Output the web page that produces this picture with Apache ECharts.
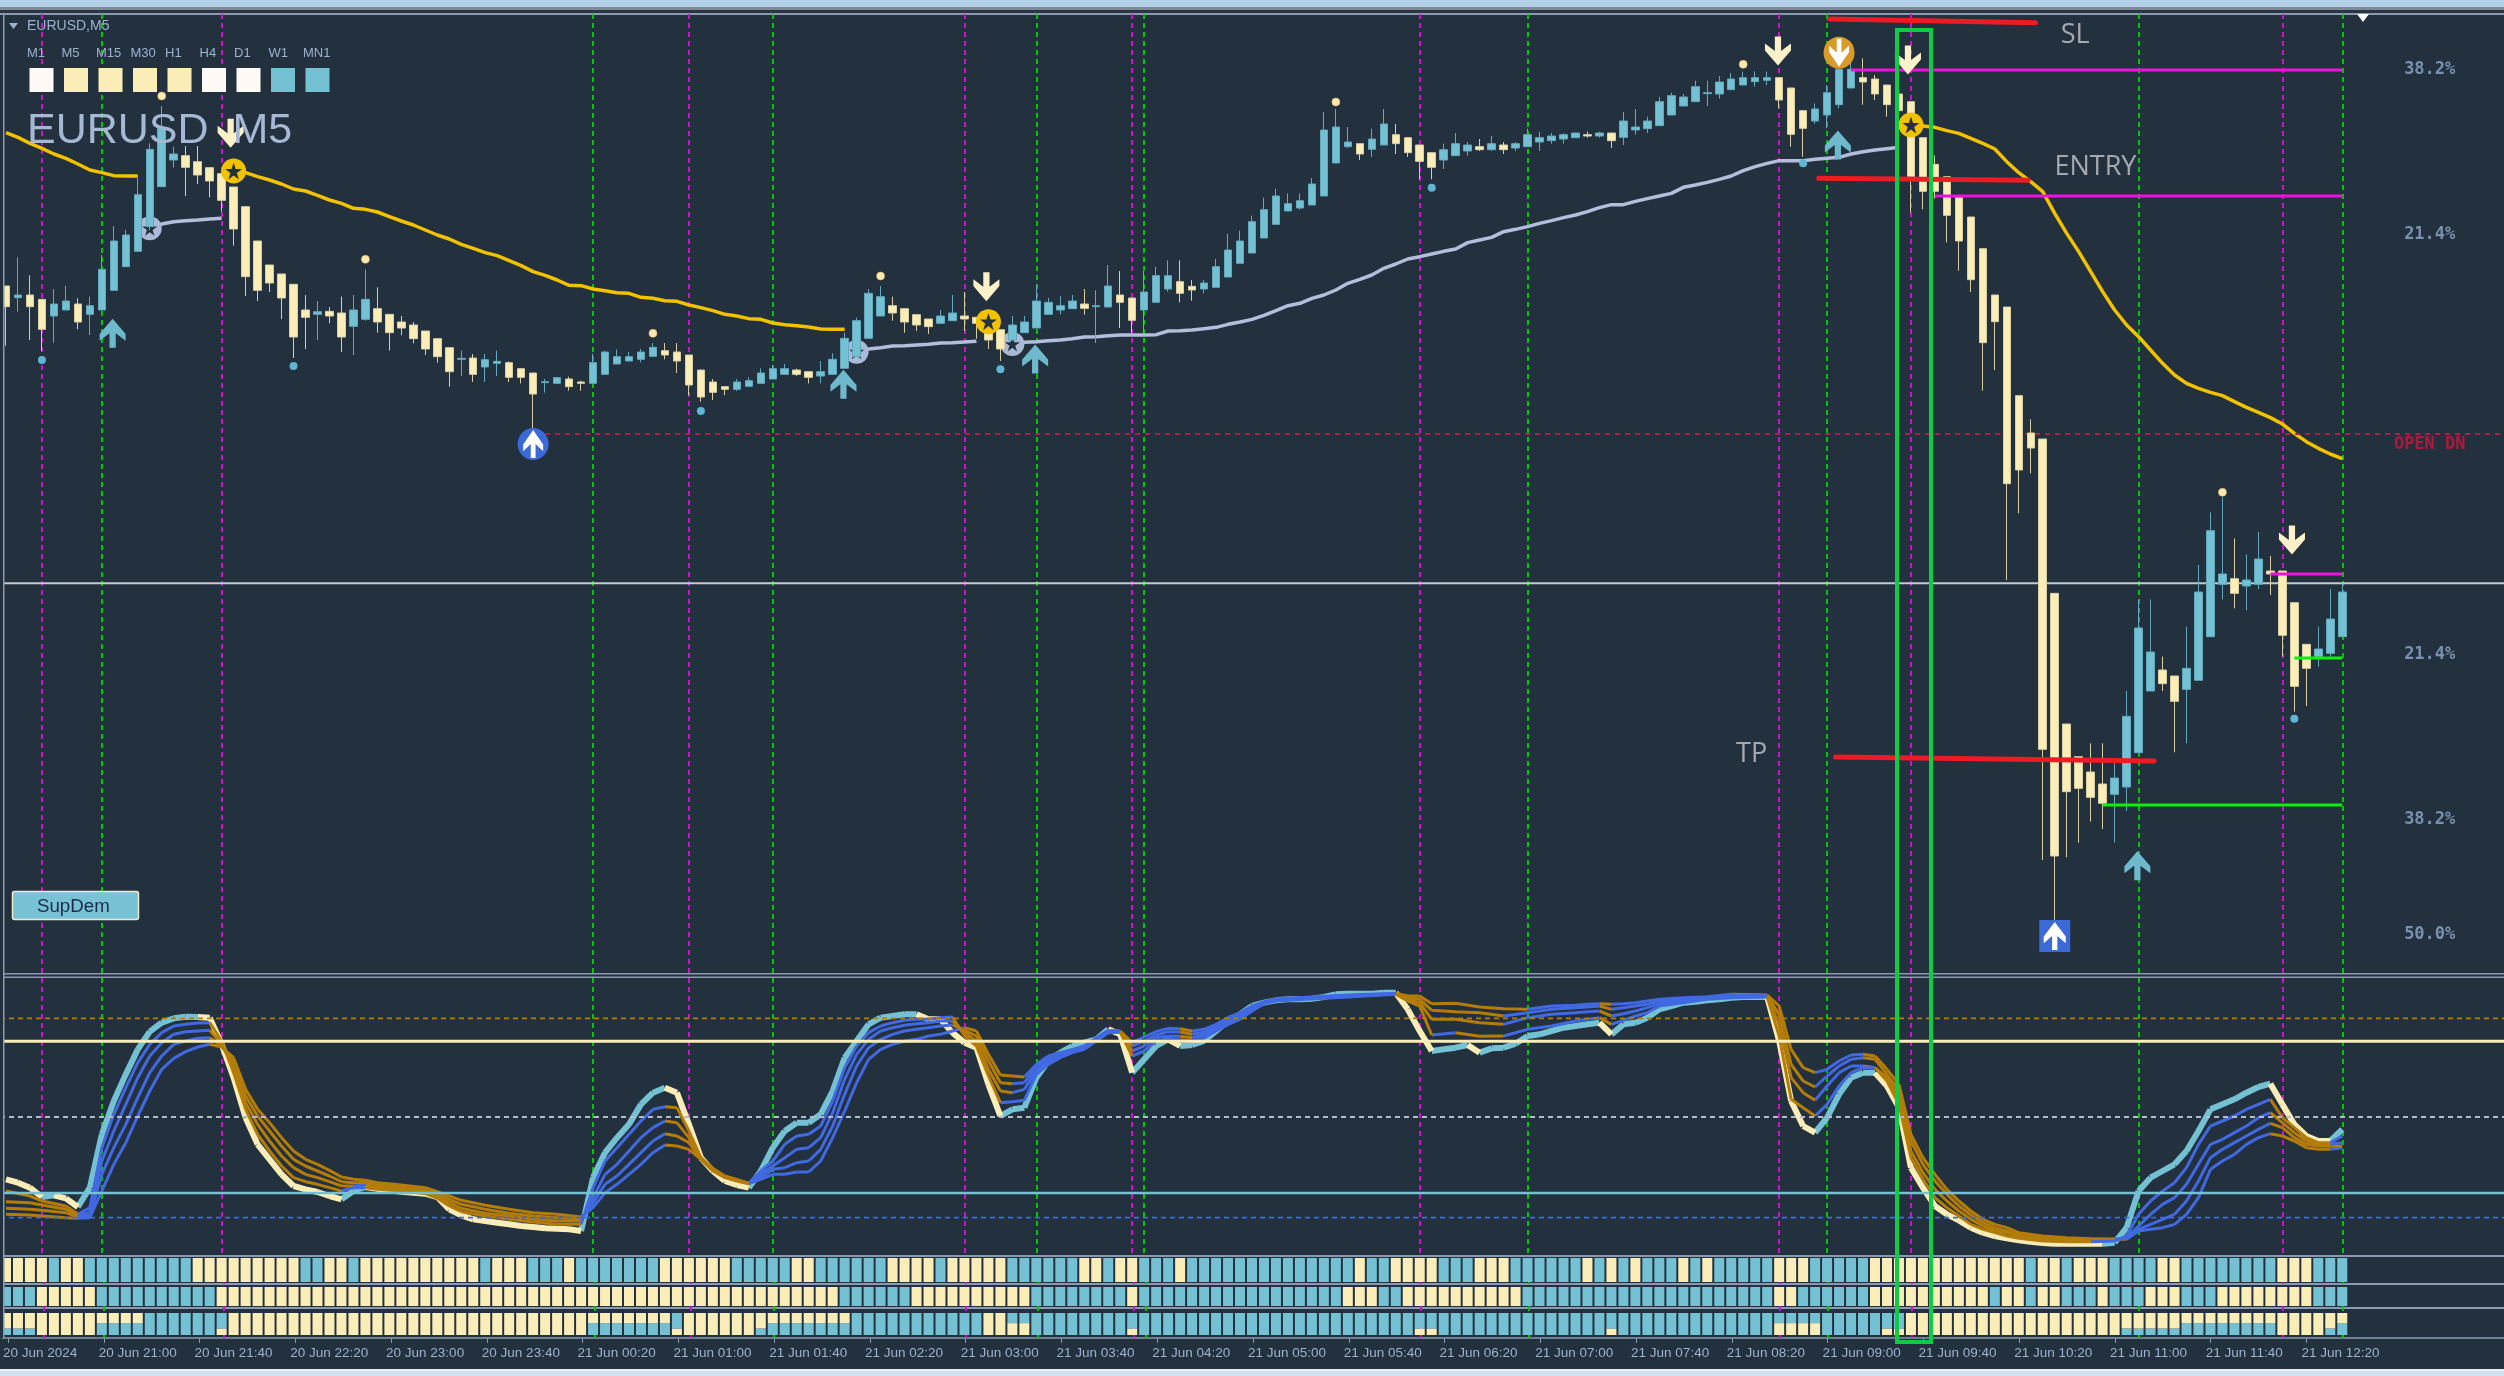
<!DOCTYPE html>
<html><head><meta charset="utf-8">
<style>html,body{margin:0;padding:0;background:#23303e}#c{width:2504px;height:1376px}</style>
<script src="https://cdn.jsdelivr.net/npm/echarts@6/dist/echarts.min.js"></script>
</head><body><div id="c"></div>
<script>
// ---------- data (quotes in points, 3 points = 1 px on screen) ----------
const opens=[2142,2107,2115,2102,2052,2070,2088,2057,2070,2129,2200,2246,2320,2440,2520,2533,2515,2497,2479,2439,2380,2277,2205,2178,2147,2070,2057,2066,2061,2021,2042,2074,2057,2034,2025,2007,1984,1957,1922,1926,1899,1910,1912,1894,1881,1852,1850,1863,1854,1850,1877,1908,1917,1922,1931,1948,1944,1935,1890,1854,1840,1832,1841,1850,1863,1877,1890,1885,1872,1877,1895,1930,1985,2052,2083,2074,2056,2043,2030,2038,2052,2048,2043,2011,1980,2002,2016,2057,2070,2074,2088,2080,2079,2115,2106,2070,2093,2133,2155,2141,2133,2138,2169,2210,2241,2286,2327,2367,2376,2385,2412,2511,2560,2569,2552,2565,2596,2587,2565,2542,2520,2533,2547,2560,2551,2565,2556,2560,2574,2578,2583,2587,2596,2592,2601,2588,2610,2614,2623,2655,2682,2695,2719,2718,2731,2745,2755,2759,2767,2736,2668,2637,2655,2686,2736,2767,2763,2745,2718,2695,2587,2507,2470,2408,2349,2254,2115,2079,1813,1701,1683,1220,828,730,684,648,617,639,742,927,990,972,932,959,1090,1247,1264,1242,1247,1287,1287,1192,1067,1030,1040,1090];
const closes=[2080,2115,2080,2012,2088,2097,2034,2083,2192,2277,2295,2416,2552,2615,2538,2498,2475,2457,2399,2313,2170,2129,2151,2106,1989,2048,2065,2052,1989,2070,2102,2034,2002,2016,1984,1953,1930,1885,1925,1877,1921,1916,1868,1868,1818,1855,1867,1840,1850,1912,1944,1930,1930,1944,1958,1935,1917,1845,1809,1823,1832,1854,1858,1881,1894,1894,1877,1868,1885,1922,1985,2038,2120,2110,2061,2034,2025,2020,2052,2061,2043,2030,1980,1953,2025,2034,2097,2093,2083,2097,2075,2083,2142,2093,2039,2124,2173,2173,2120,2130,2151,2200,2250,2277,2335,2371,2412,2389,2398,2448,2610,2619,2574,2538,2583,2628,2569,2542,2516,2498,2551,2569,2565,2551,2569,2551,2569,2596,2587,2592,2596,2601,2592,2601,2578,2637,2619,2637,2695,2713,2709,2740,2722,2754,2763,2767,2767,2767,2700,2597,2615,2673,2722,2792,2792,2754,2718,2686,2668,2470,2426,2426,2354,2277,2161,1972,2035,1549,1590,1656,752,432,625,635,608,590,666,851,1116,1044,949,896,995,1224,1408,1278,1220,1260,1323,1278,1094,941,995,1053,1143,1224];
const lows=[1963,2065,1980,1947,1972,2070,2012,1995,2070,2129,2200,2246,2310,2440,2497,2412,2448,2408,2365,2263,2112,2097,2124,2043,1926,1953,1980,2030,1944,1935,2038,2002,1948,1994,1970,1935,1912,1840,1872,1854,1854,1872,1854,1850,1705,1822,1850,1828,1828,1850,1877,1908,1917,1913,1931,1922,1881,1814,1795,1800,1814,1827,1841,1850,1863,1877,1872,1850,1850,1877,1895,1930,1985,2052,2038,2002,2007,1998,2030,2038,2007,1984,1953,1917,1980,2002,2016,2057,2057,2074,2056,1971,2079,2016,2002,1998,2093,2125,2093,2098,2120,2138,2169,2210,2241,2286,2327,2367,2371,2385,2412,2511,2556,2520,2529,2565,2538,2529,2462,2462,2493,2533,2533,2547,2547,2538,2547,2560,2547,2569,2569,2587,2587,2587,2556,2565,2596,2601,2623,2655,2682,2695,2682,2704,2731,2745,2740,2745,2675,2560,2530,2628,2615,2675,2736,2686,2700,2650,2630,2362,2372,2404,2273,2188,2124,1828,1890,1260,1460,1580,420,230,428,472,535,513,472,567,742,927,927,743,770,959,1090,1202,1175,1170,1233,1215,1030,865,882,1000,1030,1090];
const highs=[2142,2228,2174,2102,2133,2142,2105,2110,2235,2322,2310,2470,2570,2682,2560,2562,2562,2497,2485,2439,2380,2277,2205,2178,2147,2115,2097,2079,2110,2115,2192,2138,2057,2052,2034,2007,1984,1957,1948,1938,1938,1948,1916,1894,1881,1863,1867,1870,1858,1939,1948,1952,1944,1953,1971,1971,1971,1935,1890,1863,1840,1863,1868,1895,1903,1908,1894,1885,1917,1940,2002,2047,2133,2142,2110,2074,2056,2043,2070,2115,2124,2048,2043,2011,2052,2052,2145,2106,2111,2115,2133,2129,2205,2187,2106,2187,2200,2219,2219,2160,2160,2223,2299,2308,2353,2407,2434,2420,2420,2466,2664,2673,2619,2569,2614,2673,2628,2587,2565,2542,2569,2601,2574,2583,2592,2574,2574,2614,2605,2601,2601,2601,2605,2605,2601,2664,2673,2650,2709,2722,2718,2758,2758,2772,2781,2785,2786,2785,2767,2736,2668,2690,2745,2828,2825,2825,2775,2745,2718,2695,2587,2534,2470,2408,2349,2254,2115,2079,1813,1742,1683,1220,828,730,770,770,710,927,1200,1202,1030,972,1120,1305,1463,1508,1385,1337,1404,1332,1287,1192,1067,1120,1233,1250];

const goldA=[2602,2588,2570,2555,2538,2525,2508,2490,2482,2473,2472,2472];              // from bar 0
const goldB=[2487,2482,2470,2460,2448,2433,2427,2414,2400,2390,2375,2372,2364,2350,2337,2325,2310,2295,2283,2267,2255,2242,2233,2218,2203,2185,2174,2160,2144,2143,2133,2128,2122,2120,2108,2105,2098,2096,2085,2077,2068,2057,2052,2044,2042,2031,2026,2023,2019,2013,2012,2012]; // from bar 19
const goldC=[2625,2622,2618,2608,2600,2585,2570,2553,2515,2482,2455,2425,2360,2300,2245,2185,2125,2070,2025,1990,1950,1910,1875,1850,1835,1823,1813,1795,1778,1763,1747,1728,1700,1675,1655,1638,1624]; // from bar 159
const silverA=[2315,2328,2335,2338,2340,2343,2345];                                      // from bar 12
const silverB=[1945,1953,1957,1962,1963,1965,1967,1971,1972,1974,1976];                  // from bar 71
const silverC=[1968,1973,1975,1978,1980,1984,1989,1990,1993,1995,1995,1995,1996,2007,2008,2010,2014,2018,2027,2034,2042,2054,2068,2083,2090,2105,2115,2130,2150,2162,2175,2195,2208,2223,2230,2238,2246,2253,2272,2280,2288,2305,2312,2320,2330,2338,2347,2355,2365,2377,2386,2386,2396,2404,2412,2420,2438,2445,2453,2462,2472,2488,2500,2510,2518,2518,2518,2522,2525,2528,2538,2545,2550,2554,2558]; // from bar 84

const downArrows=[[18.75,2600],[81.83,2140],[147.9,2847],[158.75,2820],[190.8,1380]];
const upArrows=[[8.9,2000],[69.9,1847],[85.9,1923],[152.9,2565],[177.9,403]];
const blueCircleUp=[[44,1668]];
const blueSquareUp=[[171,192]];
const goldCircleDown=[[153,2842]];
const goldStars=[[19,2487],[82,2035],[159,2625]];
const silverStars=[[12,2315],[71,1945],[84,1968]];
const topDots=[[13,2712],[30,2222],[54,2000],[73,2172],[111,2694],[145,2807],[185,1523]];
const bottomDots=[[3,1920],[24,1902],[58,1767],[83,1892],[119,2437],[150,2510],[191,844]];

const magentaBars=[3,18,57,80,94,118,148,159,190];
const greenBars=[8,49,64,86,95,127,152,178,195];
const whiteLevel=1250, openDnLevel=1698, openDnStart=45;
const magentaLevels=[[154,195,2790],[161,195,2412],[189,195,1278]];
const greenLevels=[[191,195,1026],[175,195,585]];
const redMarks=[[152.2,2943,169.4,2932],[151.3,2465,168.8,2459],[152.7,729,179.3,717]];
const fibLabels=[['38.2%',2792],['21.4%',2297],['21.4%',1037],['38.2%',542],['50.0%',197]];
const openDnLabel=[['OPEN DN',1665]];
const noteLabels=[['SL',172.7,2895],['ENTRY',174.4,2497],['TP',145.7,738]];

// oscillator, read as depth below its ceiling (axis runs downward)
const oscFast=[655,665,680,708,703,712,738,680,520,420,340,265,212,185,172,167,168,170,250,350,470,550,595,640,675,685,693,705,715,690,678,683,688,692,695,698,708,745,763,775,780,785,790,795,798,802,803,805,810,650,575,530,490,430,395,380,395,490,590,630,660,672,680,630,560,510,485,485,460,390,290,240,190,170,165,160,160,175,175,215,245,260,370,465,445,440,350,300,275,255,245,235,205,220,335,295,255,235,255,252,240,210,180,160,135,125,118,115,115,113,108,100,98,98,98,95,95,145,210,270,265,260,252,275,262,260,248,225,220,210,200,195,190,185,220,190,185,170,145,135,125,122,118,115,110,108,107,108,240,420,495,515,470,400,350,335,335,375,440,620,680,735,760,778,800,815,825,832,838,842,846,848,848,848,848,848,845,800,690,650,630,610,570,510,445,430,415,395,378,368,430,490,525,540,540,505];
const oscBars=[0,2,3,5,6,7,8,9,10,11,12,13,14,15,16,17,18,19,20,21,22,23,24,25,26,27,28,29,30,31,33,35,36,37,38,40,42,44,46,48,49,50,51,52,53,54,55,56,57,58,59,60,61,62,63,64,65,66,67,68,69,70,71,72,73,74,75,76,77,78,79,80,81,82,83,84,85,86,87,88,89,90,91,92,93,94,95,96,97,98,99,100,101,102,103,104,105,106,110,112,116,117,118,119,121,123,125,127,129,131,132,133,134,135,136,137,138,140,142,144,147,148,149,150,151,152,153,154,155,156,157,158,159,160,161,162,163,164,165,166,167,168,170,172,174,176,177,178,179,180,181,182,183,184,185,186,187,188,189,190,191,192,193,194,195];
const oscS1=[690,705,720,735,760,740,560,460,380,305,250,215,195,190,186,185,240,335,445,520,570,615,650,662,670,680,690,680,680,685,690,698,712,735,752,765,775,783,790,790,680,600,560,520,480,445,437,440,510,590,622,645,655,667,630,600,550,525,520,495,420,320,255,215,195,185,178,175,175,170,168,225,255,345,425,422,418,340,310,290,275,265,240,215,214,285,270,240,235,236,240,232,210,190,175,150,128,120,112,108,100,120,135,222,215,226,225,205,195,180,175,170,190,178,165,155,135,125,115,110,108,225,415,440,465,430,375,335,320,320,360,430,590,655,710,740,765,790,805,815,825,832,840,842,842,840,825,760,720,690,665,620,550,495,480,465,445,430,415,470,500,530,545,545,525];
const oscS2=[722,725,732,745,762,755,600,510,430,350,285,245,220,212,210,208,250,320,425,490,540,585,620,640,650,662,675,675,672,678,685,692,705,725,742,757,765,775,780,780,710,640,610,570,530,500,480,485,530,590,625,647,657,667,640,615,590,565,560,530,455,355,280,235,210,200,193,188,185,180,180,215,240,325,390,395,385,328,300,285,272,262,238,212,212,270,255,230,225,226,230,222,202,182,168,145,126,118,110,106,99,115,125,175,175,185,190,170,160,155,152,150,165,158,150,140,128,118,112,105,106,190,350,395,418,375,335,315,315,320,350,410,570,635,685,720,750,775,795,808,815,825,835,838,838,838,830,795,760,730,710,670,610,550,535,515,495,470,455,485,515,540,550,550,545];
const oscS3=[742,745,748,755,768,765,640,560,490,410,335,285,250,240,232,230,255,305,405,465,510,555,595,615,630,645,662,665,665,672,678,686,698,715,730,745,757,765,770,775,725,670,645,610,575,540,518,525,545,595,628,648,658,668,650,625,620,605,600,565,495,400,315,260,235,220,210,205,200,195,192,208,225,300,365,368,365,318,292,280,268,258,235,210,211,255,240,222,212,213,220,214,196,176,160,140,124,116,108,104,98,110,115,148,152,155,165,155,145,140,138,135,145,140,135,130,120,114,110,103,104,160,310,360,378,345,315,295,290,295,340,390,540,610,660,700,735,762,785,800,810,820,830,835,835,835,830,805,790,775,760,720,660,590,565,545,525,505,487,500,530,550,555,555,555];
const oscS4=[760,762,765,770,772,770,690,610,545,465,390,325,292,272,258,250,258,290,385,445,485,530,570,595,610,628,648,655,658,665,672,680,692,705,718,733,745,755,760,768,740,695,670,640,610,575,552,555,565,595,630,650,660,668,655,640,640,633,633,600,530,450,365,295,265,250,240,235,225,220,210,200,210,280,342,345,348,310,285,275,265,255,230,208,210,245,228,212,202,203,210,205,190,170,155,135,122,114,106,102,97,105,105,128,127,138,143,145,135,133,130,128,130,128,125,120,115,110,107,100,102,135,265,320,335,325,300,282,280,285,325,370,520,590,640,685,720,750,775,790,800,815,825,830,833,835,835,810,805,800,790,760,710,625,600,580,550,530,518,525,540,560,565,565,560];
const oscLevels={gold:172,cream:241,grey:468,teal:696,blue:770};

// signal strips: run lengths, alternately cream and blue, starting with cream
const strip1Runs=[4,1,2,9,9,2,2,1,10,1,3,3,1,7,6,5,2,6,4,1,5,6,2,1,2,3,1,14,1,2,4,3,3,6,1,1,1,1,1,3,1,1,1,5,3,5,13,1,2,1,3,4,2,8,3,3];
const strip2Runs=[0,3,5,10,52,6,10,8,1,17,3,2,10,21,2,6,10,1,2,1,2,3,1,3,3,3,8,3];
// c all cream, b all blue, s cream over a small blue part, h cream over a larger blue part,
// t blue over a small cream part, u blue over a larger cream part
const strip3Runs=[['s',3],['c',5],['h',4],['b',6],['t',1],['c',30],['h',7],['t',1],['c',6],['s',1],['h',7],['b',11],['c',2],['u',2],['b',8],['t',1],['b',23],['t',2],['b',14],['t',1],['b',13],['u',4],['b',5],['t',2],['c',18],['s',5],['h',8],['c',4],['s',1],['h',1]];
const strip3LowerShare={c:100,b:100,s:30,h:54,t:30,u:54};

const timeLabels=['20 Jun 2024','20 Jun 21:00','20 Jun 21:40','20 Jun 22:20','20 Jun 23:00','20 Jun 23:40','21 Jun 00:20','21 Jun 01:00','21 Jun 01:40','21 Jun 02:20','21 Jun 03:00','21 Jun 03:40','21 Jun 04:20','21 Jun 05:00','21 Jun 05:40','21 Jun 06:20','21 Jun 07:00','21 Jun 07:40','21 Jun 08:20','21 Jun 09:00','21 Jun 09:40','21 Jun 10:20','21 Jun 11:00','21 Jun 11:40','21 Jun 12:20'];
const timeframes=['M1','M5','M15','M30','H1','H4','D1','W1','MN1'];
const timeframeState=['w','c','c','c','c','w','w','b','b'];

// ---------- styles ----------
const BG='#23303e',CREAM='#faedb7',TEAL='#75c1d4',BLUE='#4169e1',BROWN='#b47c08',GOLD='#f2c200',SILVER='#b4bedc',
      MAG='#d00fd0',GRN='#00c800',FRAME='#8b9ab0',TXT='#9db2cf',WHITE='#fffaf5';
const SLOTS=209;
const cats=Array.from({length:SLOTS},(_,i)=>i%8===0&&timeLabels[i/8]?timeLabels[i/8]:String(i));
const UP='path://M50 0L100 52L100 76L62 50L62 100L38 100L38 50L0 76L0 52Z';
const DOWN='path://M50 100L100 48L100 24L62 50L62 0L38 0L38 50L0 24L0 48Z';
const STAR='path://M50 0L62 36L100 36L69 58L81 95L50 72L19 95L31 58L0 36L38 36Z';
const overlayX=g=>({type:'value',gridIndex:g,min:-0.5,max:SLOTS-0.5,show:false,splitLine:{show:false}});
const catX=(g,extra)=>Object.assign({type:'category',gridIndex:g,data:cats,show:false,boundaryGap:true},extra||{});
const hideY=(g,min,max,inverse)=>({type:'value',gridIndex:g,min,max,inverse:!!inverse,show:false,splitLine:{show:false}});
const G={left:-1,width:SLOTS*12};
const grids=[
 Object.assign({top:14,height:959},G),      // price
 Object.assign({top:978,height:278},G),     // oscillator
 Object.assign({top:1258,height:24},G),     // strip 1
 Object.assign({top:1287,height:19},G),     // strip 2
 Object.assign({top:1313,height:22},G),     // strip 3
 Object.assign({top:1258,height:80},G)      // time axis
];
const xAxes=[
 catX(0), overlayX(0), overlayX(1), catX(2), catX(3), catX(4),
 catX(5,{show:true,
   axisLine:{show:true,lineStyle:{color:FRAME,width:1.5}},
   axisTick:{show:true,alignWithLabel:true,length:5,lineStyle:{color:FRAME},interval:i=>i%8===0&&i<=192},
   axisLabel:{show:true,interval:i=>i%8===0&&i<=192,align:'left',margin:8,color:TXT,fontSize:13.5,fontFamily:'"Liberation Sans"',hideOverlap:false,showMinLabel:true,showMaxLabel:true,padding:[0,0,0,-5]}})
];
const yAxes=[hideY(0,81,2958),hideY(1,51,885,true),hideY(2,0,100),hideY(3,0,100),hideY(4,0,100),hideY(5,0,100)];

const MAIN={xAxisIndex:1,yAxisIndex:0};
const SUB={xAxisIndex:2,yAxisIndex:1};
const series=[];
const seq=(arr,start)=>arr.map((v,k)=>[start+k,v]);
const guides=(ax,ay)=>({type:'line',xAxisIndex:ax,yAxisIndex:ay,data:[],silent:true,z:1,
  markLine:{silent:true,symbol:'none',animation:false,z:1,label:{show:false},data:[
    ...magentaBars.map(b=>({xAxis:b,lineStyle:{color:MAG,type:[5,4],width:2}})),
    ...greenBars.map(b=>({xAxis:b,lineStyle:{color:GRN,type:[5,4],width:2}}))]}});
series.push(guides(1,0),guides(2,1),guides(6,5));

// candles
series.push({type:'candlestick',xAxisIndex:0,yAxisIndex:0,barWidth:8,z:3,
  data:opens.map((o,i)=>[o,closes[i],lows[i],highs[i]]),
  itemStyle:{color:TEAL,color0:CREAM,borderColor:'#63a9bd',borderColor0:'#d9cea2',borderWidth:1}});

// moving lines
const line=(data,color,w,z,axes)=>Object.assign({type:'line',data,symbol:'none',silent:true,z,
   lineStyle:{color,width:w,join:'round'}},axes);
[[goldA,0],[goldB,19],[goldC,159]].forEach(([a,s])=>series.push(line(seq(a,s),GOLD,3.5,2,MAIN)));
[[silverA,12],[silverB,71],[silverC,84]].forEach(([a,s])=>series.push(line(seq(a,s),SILVER,3.5,2,MAIN)));

// horizontal levels
const hline=(x1,y1,x2,y2,c,w,z,type,cap)=>({type:'line',symbol:'none',silent:true,z,...MAIN,data:[[x1,y1],[x2,y2]],
   lineStyle:{color:c,width:w,type:type||'solid',cap:cap||'butt'}});
series.push(hline(-0.5,whiteLevel,SLOTS-0.5,whiteLevel,'#c4c9cf',2,2));
series.push(hline(openDnStart,openDnLevel,SLOTS-0.5,openDnLevel,'#b81a48',1.8,2,[5,5]));
magentaLevels.forEach(m=>series.push(hline(m[0],m[2],m[1],m[2],'#f20ee0',3,6)));
greenLevels.forEach(m=>series.push(hline(m[0],m[2],m[1],m[2],'#0cf00c',3,6)));
redMarks.forEach(m=>series.push(hline(m[0],m[1],m[2],m[3],'#ed1c24',5,8,'solid','round')));

// signal marks
const marks=(data,symbol,size,color,z,extra)=>Object.assign({type:'scatter',...MAIN,data,symbol,symbolSize:size,silent:true,z,
   itemStyle:Object.assign({color,opacity:1},extra||{})});
series.push(marks(topDots,'circle',8,'#fde9b4',7,{borderColor:'#e3b65e',borderWidth:0.6}));
series.push(marks(bottomDots,'circle',8,'#5fb6d4',7));
series.push(marks(goldStars,'circle',25,GOLD,7));
series.push(marks(goldStars,STAR,[17,17],BG,7));
series.push(marks(silverStars,'circle',24,'#a9b9d6',2));
series.push(marks(silverStars,STAR,[15,15],BG,2));
series.push(marks(downArrows,DOWN,[26,29],'#fdf1c9',9));
series.push(marks(upArrows,UP,[26,29],'#6fb9cd',9));
series.push(marks(blueCircleUp,'circle',[31,32],'#3c69d8',9));
series.push(marks(blueCircleUp,UP,[20,28],'#ffffff',9));
series.push(marks(blueSquareUp,'rect',[31,32],'#3c69d8',9));
series.push(marks(blueSquareUp,UP,[22,28],'#ffffff',9));
series.push(marks(goldCircleDown,'circle',[31,32],'#d99a27',9));
series.push(marks(goldCircleDown,DOWN,[20,28],'#ffffff',9));

// text labels tied to the scale
const textMark=(data,style,axes)=>({type:'scatter',...axes,symbolSize:1,itemStyle:{color:'rgba(0,0,0,0)'},silent:true,z:10,data,
   labelLayout:{hideOverlap:false},
   label:Object.assign({show:true,position:'inside',formatter:'{b}'},style)});
const MONO={fontFamily:'"DejaVu Sans Mono"',fontSize:17,fontWeight:'bold',color:'#8eaacb'};
series.push(textMark(fibLabels.map(f=>({name:f[0],value:[202.3,f[1]]})),MONO,MAIN));
series.push(textMark(openDnLabel.map(f=>({name:f[0],value:[202.3,f[1]]})),Object.assign({},MONO,{color:'#d0143a'}),MAIN));
series.push(textMark(noteLabels.map(f=>({name:f[0],value:[f[1],f[2]]})),{fontFamily:'"Open Sans"',fontSize:27,color:'#c4c8cc'},MAIN));

// oscillator: colour follows direction of each segment
function directional(pts,upC,downC,w,z){
  const up=[],down=[];let rising=true;
  for(let k=1;k<pts.length;k++){
    const d=pts[k][1]-pts[k-1][1];
    if(d<-1)rising=true;else if(d>1)rising=false;
    (rising?up:down).push(pts[k-1],pts[k],[pts[k][0],null]);
  }
  return [line(up,upC,w,z,SUB),line(down,downC,w,z,SUB)];
}
series.push(...directional(seq(oscFast,0),TEAL,CREAM,6,3));
[oscS4,oscS3,oscS2,oscS1].forEach(s=>series.push(...directional(s.map((v,k)=>[oscBars[k],v]),BLUE,BROWN,3,4)));
const lvl=(v,c,w,type)=>({type:'line',symbol:'none',silent:true,z:5,...SUB,data:[[-0.5,v],[SLOTS-0.5,v]],lineStyle:{color:c,width:w,type:type||'solid'}});
series.push(lvl(oscLevels.gold,BROWN,1.8,[5,4]),lvl(oscLevels.cream,CREAM,3),lvl(oscLevels.grey,'#b4bccb',1.8,[5,4]),lvl(oscLevels.teal,TEAL,2.5),lvl(oscLevels.blue,BLUE,1.8,[5,4]));

// strips
const expand=runs=>{const out=[];runs.forEach((n,k)=>{for(let j=0;j<n;j++)out.push(k%2?TEAL:CREAM)});return out};
const stripBar=(xi,yi,colors)=>({type:'bar',xAxisIndex:xi,yAxisIndex:yi,barWidth:10,z:3,silent:true,
   data:colors.map(c=>({value:100,itemStyle:{color:c}}))});
series.push(stripBar(3,2,expand(strip1Runs)),stripBar(4,3,expand(strip2Runs)));
const s3=[];strip3Runs.forEach(([c,n])=>{for(let j=0;j<n;j++)s3.push(c)});
const lowerCol=c=>(c==='c'||c==='t'||c==='u')?CREAM:TEAL;
const upperCol=c=>(c==='s'||c==='h')?CREAM:TEAL;
series.push({type:'bar',stack:'m',xAxisIndex:5,yAxisIndex:4,barWidth:10,z:3,silent:true,
   data:s3.map(c=>({value:strip3LowerShare[c],itemStyle:{color:lowerCol(c)}}))});
series.push({type:'bar',stack:'m',xAxisIndex:5,yAxisIndex:4,barWidth:10,z:3,silent:true,
   data:s3.map(c=>({value:100-strip3LowerShare[c],itemStyle:{color:upperCol(c)}}))});

// window furniture
const rect=(x,y,w,h,fill,z)=>({type:'rect',shape:{x,y,width:w,height:h},style:{fill},z:z||0,silent:true});
const text=(x,y,t,size,fill,font,z)=>({type:'text',x,y,silent:true,z:z||20,style:{text:t,fontSize:size,fill,fontFamily:font||'"Liberation Sans"',verticalAlign:'middle'}});
const tfFill={w:WHITE,c:CREAM,b:TEAL};
const graphics=[
 rect(0,0,2504,7,'#b4cfe8'),rect(0,7,2504,3,'#7f8a96'),rect(0,10,2504,3,'#2a3442'),rect(0,13,2504,2,FRAME),
 rect(0,15,3,1323,BG,40),
 rect(3,13,1.5,1325,FRAME,41),
 rect(0,973,2504,1.5,FRAME),rect(0,976.5,2504,1.5,FRAME),
 rect(0,1255,2504,2,FRAME),rect(0,1283,2504,2,FRAME),rect(0,1307,2504,2,FRAME),
 rect(0,1369,2504,2,'#e8eef4'),rect(0,1371,2504,5,'#cfe0f0'),
 {type:'polygon',shape:{points:[[9,23],[18,23],[13.5,29]]},style:{fill:TXT},z:20,silent:true},
 {type:'polygon',shape:{points:[[2357,14],[2369,14],[2363,22]]},style:{fill:'#ffffff'},z:20,silent:true},
 text(27,26,'EURUSD,M5',14,TXT),
 text(27,131,'EURUSD  M5',43,'#a6b9d4'),
 ...timeframes.map((t,k)=>text(27+34.5*k,53,t,13,TXT)),
 ...timeframeState.map((s,k)=>rect(29.5+34.5*k,68,24,24,tfFill[s],20)),
 {type:'rect',shape:{x:12.5,y:891.5,width:126,height:28,r:2},style:{fill:'#77c2d4',stroke:'#efe9cc',lineWidth:1.5},z:20,silent:true},
 text(37,907,'SupDem',18.7,'#1f2a4a'),
 {type:'rect',shape:{x:1897,y:30,width:34,height:1312},style:{fill:'none',stroke:'#0dcc46',lineWidth:4},z:30,silent:true}
];

const chart=echarts.init(document.getElementById('c'),null,{renderer:'canvas',width:2504,height:1376});
chart.setOption({animation:false,backgroundColor:BG,grid:grids,xAxis:xAxes,yAxis:yAxes,series,graphic:{elements:graphics},tooltip:{show:false},legend:{show:false}});
</script></body></html>
